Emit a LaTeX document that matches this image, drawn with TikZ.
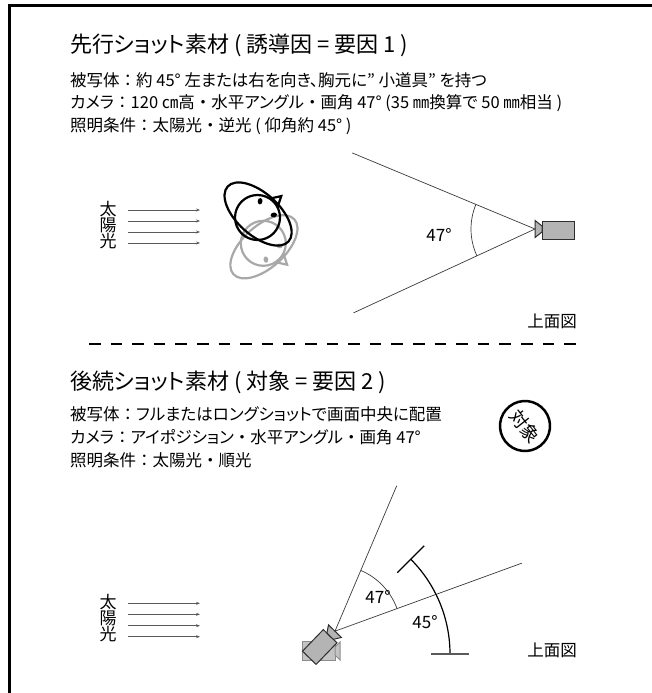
\documentclass[tikz,border=0pt]{standalone}
\usepackage{fontspec}
\setmainfont{Noto Sans CJK JP}[RawFeature=+palt]
\usetikzlibrary{arrows.meta}

% full-width punctuation kept on a one-em cell
\newcommand\fwch[1]{\makebox[1em][c]{#1}}

\definecolor{figgray}{HTML}{A8A8A8}
\definecolor{camfill}{HTML}{B4B4B4}
\definecolor{camline}{HTML}{2E2E2E}
\definecolor{fadefill}{HTML}{C4C4C4}
\definecolor{fadeline}{HTML}{8C8C8C}
\definecolor{viewline}{HTML}{3A3A3A}
\definecolor{raygray}{HTML}{5A5A5A}

\begin{document}
\begin{tikzpicture}[x=1pt,y=1pt,
  titletext/.style={anchor=west, inner sep=0pt, font=\fontsize{22}{26}\selectfont},
  bodytext/.style={anchor=west, inner sep=0pt, font=\fontsize{16.5}{19}\selectfont},
  sunlabel/.style={align=center, inner sep=0pt, font=\fontsize{17}{16}\selectfont},
  ray/.style={raygray, line width=0.8pt, -{Stealth[length=4pt,width=3pt]}},
  viewray/.style={viewline, line width=0.7pt},
  anglelabel/.style={inner sep=0pt, font=\fontsize{17}{19}\selectfont},
  camera/.style={camline, line width=1pt, fill=camfill, line join=miter},
  fadedcam/.style={fadeline, line width=1pt, fill=fadefill},
  head/.pic={
    \draw (0,0) circle (22.5);
    \draw[rotate around={-42:(0.6,3.5)}] (0.6,3.5) ellipse [x radius=41, y radius=21];
    \draw[line join=miter] (57:22.5) -- (42:32) -- (27:22.5);
    \fill[rotate around={81:(81:16.5)}] (81:16.5) ellipse [x radius=3.2, y radius=2.4];
    \fill[rotate around={9:(9:16.5)}] (9:16.5) ellipse [x radius=3.2, y radius=2.4];
  }]
\useasboundingbox (0,0) rectangle (651,-693);

% outer frame (only the left and top edges fall inside the page)
\draw[line width=3pt] (9,-720) -- (9,-6) -- (700,-6);

% ---------- upper block: lead-in shot ----------
\node[titletext] (t1) at (70,-45) {先行ショット素材 ( 誘導因 = 要因 1 )};
\node[bodytext] (t1a) at (70,-80) {被写体\fwch{：}約 45° 左または右を向き、胸元に” 小道具” を持つ};
\node[bodytext] (t1b) at (70,-103) {カメラ\fwch{：}120 ㎝高\fwch{・}水平アングル\fwch{・}画角 47° (35 ㎜換算で 50 ㎜相当 )};
\node[bodytext] (t1c) at (70,-126) {照明条件\fwch{：}太陽光\fwch{・}逆光 ( 仰角約 45° )};

% sunlight
\node[sunlabel] (sun1) at (108,-225) {太\\陽\\光};
\foreach \yy [count=\i] in {210,221,232,243} {
  \coordinate (s1a\i) at (128,-\yy);
  \coordinate (s1b\i) at (200,-\yy);
  \draw[ray] (s1a\i) -- (s1b\i);
}

% subject seen from above, two facing options
\pic[color=figgray, line width=2.2pt, yscale=-1] at (263.3,-243.3) {head};
\pic[color=black, line width=2.2pt] at (257.5,-217.5) {head};

% camera and field of view
\coordinate (lensA) at (535,-229);
\draw[camera] (542,-221) rectangle (574,-239);
\draw[camera] (535,-220.5) -- (542,-226) -- (542,-232) -- (535,-237.5) -- cycle;
\path (lensA) ++(157.4:198) coordinate (fovA1);
\path (lensA) ++(204.8:200) coordinate (fovA2);
\path (lensA) ++(157.4:64) coordinate (arcA);
\draw[viewray] (fovA1) -- (lensA) -- (fovA2);
\draw[viewray] (arcA) arc[start angle=157.4, end angle=204.8, radius=64];
\node[anglelabel] (angA) at (439,-235) {47°};

\node[bodytext, anchor=center] (plan1) at (552,-321) {上面図};

% separator
\coordinate (sepL) at (89,-344);
\coordinate (sepR) at (577,-344);
\draw[line width=2.2pt, dash pattern=on 11.5pt off 10.1pt] (sepL) -- (sepR);

% ---------- lower block: follow-up shot ----------
\node[titletext] (t2) at (70,-382) {後続ショット素材 ( 対象 = 要因 2 )};
\node[bodytext] (t2a) at (70,-414) {被写体\fwch{：}フルまたはロングショットで画面中央に配置};
\node[bodytext] (t2b) at (70,-437) {カメラ\fwch{：}アイポジション\fwch{・}水平アングル\fwch{・}画角 47°};
\node[bodytext] (t2c) at (70,-460) {照明条件\fwch{：}太陽光\fwch{・}順光};

% target mark
\node[draw, circle, line width=2.5pt, minimum size=50pt, inner sep=0pt, rotate=-52,
      font=\fontsize{18}{20}\selectfont] (tgt) at (525,-426) {対象};

% sunlight
\node[sunlabel] (sun2) at (108,-618) {太\\陽\\光};
\foreach \yy [count=\i] in {603.3,614.3,625.7,636.7} {
  \coordinate (s2a\i) at (128,-\yy);
  \coordinate (s2b\i) at (200,-\yy);
  \draw[ray] (s2a\i) -- (s2b\i);
}

% camera: faded level position and the turned position
\draw[fadedcam] (302.7,-641.7) rectangle (335,-660);
\draw[fadedcam] (335,-647) -- (340,-642) -- (340,-660) -- (335,-655) -- cycle;
\begin{scope}[shift={(319.7,-647)}, rotate=46]
  \draw[camera] (-15,-9.5) rectangle (15,9.5);
  \draw[camera] (15,-4.5) -- (22,-9) -- (22,9) -- (15,4.5) -- cycle;
  \coordinate (lensB) at (22,0);
\end{scope}

\path (lensB) ++(67:158) coordinate (fovB1);
\path (lensB) ++(20:199) coordinate (fovB2);
\path (lensB) ++(20:66) coordinate (arcB);
\draw[viewray] (fovB1) -- (lensB) -- (fovB2);
\draw[viewray] (arcB) arc[start angle=20, end angle=67, radius=66];
\node[anglelabel] (angB) at (378,-597) {47°};

% 45 degree turn
\coordinate (turnC) at (316,-654);
\path (turnC) ++(0:134) coordinate (turnS);
\draw[line width=1.2pt] (turnS) arc[start angle=0, end angle=45, radius=134];
\draw[line width=1.6pt, color=raygray] (turnC) ++(0:115) -- ++(0:38);
\draw[line width=1.3pt] (turnC) ++(45:115) -- ++(45:38);
\node[anglelabel] (angC) at (425,-622) {45°};

\node[bodytext, anchor=center] (plan2) at (552,-650) {上面図};
\end{tikzpicture}
\end{document}
